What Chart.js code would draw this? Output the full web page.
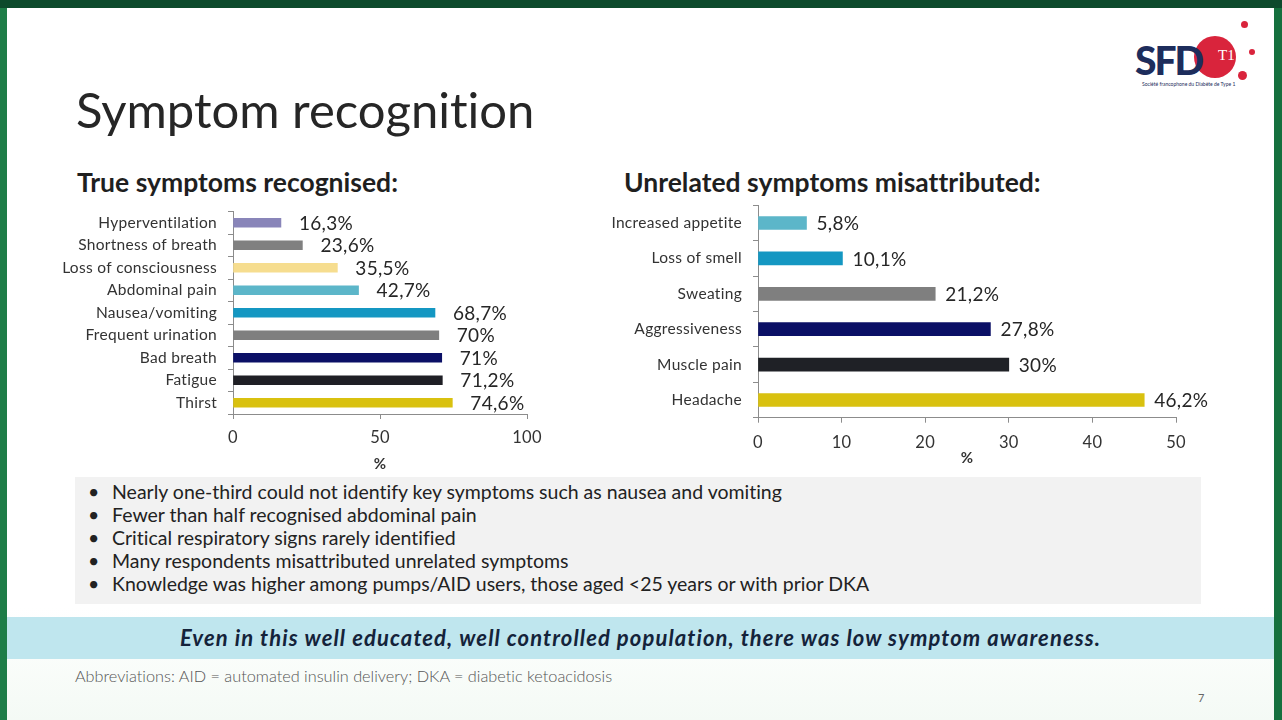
<!DOCTYPE html>
<html>
<head>
<meta charset="utf-8">
<script src="https://cdn.jsdelivr.net/npm/chart.js@4.4.1/dist/chart.umd.min.js"></script>
<style>
  html, body { margin: 0; padding: 0; }
  body { width: 1282px; height: 720px; position: relative; overflow: hidden; background: #0d4a2c; font-family: Lato, "Open Sans", sans-serif; color: #262626; font-variant-ligatures: none; }
  .slide { position: absolute; left: 7px; top: 8px; width: 1267px; height: 712px; background: linear-gradient(#ffffff 0, #ffffff 600px, #f4faf5 712px); }
  .edgeL { position: absolute; left: 0; top: 8px; width: 7px; height: 712px; background: #1e7d48; }
  .edgeR { position: absolute; right: 0; top: 8px; width: 8px; height: 712px; background: #15703e; }
  .abs { position: absolute; white-space: nowrap; }
  h1 { position: absolute; left: 76px; top: 80px; margin: 0; font-weight: 400; font-size: 49px; color: #262626; }
  .head { position: absolute; top: 166px; margin: 0; font-weight: 700; font-size: 26.5px; color: #1f1f1f; }
  .box { position: absolute; left: 75px; top: 477px; width: 1126px; height: 127px; background: #f2f2f2; }
  .box ul { margin: 0; padding: 0; list-style: none; position: absolute; left: 13px; top: 3px; }
  .box li { font-size: 19.5px; line-height: 23px; height: 23px; color: #222; }
  .box li::before { content: "\2022"; display: inline-block; width: 24px; }
  .banner { position: absolute; left: 7px; top: 617px; width: 1267px; height: 42px; background: #bfe6ee; text-align: center; line-height: 41px; font-weight: 700; font-style: italic; font-size: 22px; letter-spacing: 1.1px; color: #14233a; }
  .abbr { left: 75px; top: 666px; font-size: 16.3px; color: #555; font-weight: 300; }
  .page { left: 1198px; top: 691px; font-size: 11px; color: #666; }
  .logo { position: absolute; left: 1130px; top: 18px; width: 130px; height: 78px; }
  .dot { position: absolute; border-radius: 50%; background: #d9243c; }
</style>
</head>
<body>
<div class="slide"></div>
<div class="edgeL"></div>
<div class="edgeR"></div>

<div class="logo">
  <div class="dot" style="left:64px;top:18px;width:42px;height:42px;"></div>
  <div class="dot" style="left:111px;top:3px;width:7px;height:7px;"></div>
  <div class="dot" style="left:119px;top:31px;width:6px;height:6px;"></div>
  <div class="dot" style="left:108px;top:53px;width:9px;height:9px;"></div>
  <div class="abs" style="left:5px;top:19px;font-size:39px;font-weight:900;color:#1d2d5c;letter-spacing:-2px;">SFD</div>
  <div class="abs" style="left:88px;top:29px;font-size:15px;color:#fff;font-family:'Liberation Serif',serif;">T1</div>
  <div class="abs" style="left:12px;top:63px;font-size:5px;color:#1d2d5c;">Société francophone du Diabète de Type 1</div>
</div>

<h1>Symptom recognition</h1>
<div class="head" style="left:77px;">True symptoms recognised:</div>
<div class="head" style="left:624px;">Unrelated symptoms misattributed:</div>

<div class="abs" style="left:60px;top:200px;width:500px;height:280px;"><canvas id="trueChart"></canvas></div>
<div class="abs" style="left:600px;top:195px;width:620px;height:285px;"><canvas id="falseChart"></canvas></div>

<div class="box">
  <ul>
    <li>Nearly one-third could not identify key symptoms such as nausea and vomiting</li>
    <li>Fewer than half recognised abdominal pain</li>
    <li>Critical respiratory signs rarely identified</li>
    <li>Many respondents misattributed unrelated symptoms</li>
    <li>Knowledge was higher among pumps/AID users, those aged &lt;25 years or with prior DKA</li>
  </ul>
</div>
<div class="banner">Even in this well educated, well controlled population, there was low symptom awareness.</div>
<div class="abs abbr">Abbreviations: AID = automated insulin delivery; DKA = diabetic ketoacidosis</div>
<div class="abs page">7</div>

<script>
// True symptoms (left chart)
const trueLabels = ['Hyperventilation', 'Shortness of breath', 'Loss of consciousness', 'Abdominal pain',
    'Nausea/vomiting', 'Frequent urination', 'Bad breath', 'Fatigue', 'Thirst'];
const trueValues = [16.3, 23.6, 35.5, 42.7, 68.7, 70, 71, 71.2, 74.6];
const trueColors = ['#8985b9', '#808080', '#f6dd8f', '#5cb6c9', '#1497c2', '#7f7f7f', '#0b1066', '#1f1f25', '#d9c10f'];
const trueTicks = [0, 50, 100];

// Unrelated symptoms (right chart)
const falseLabels = ['Increased appetite', 'Loss of smell', 'Sweating', 'Aggressiveness', 'Muscle pain', 'Headache'];
const falseValues = [5.8, 10.1, 21.2, 27.8, 30, 46.2];
const falseColors = ['#5cb6c9', '#1497c2', '#7f7f7f', '#0b1066', '#1f2126', '#d9c10f'];
const falseTicks = [0, 10, 20, 30, 40, 50];

// pas de ligatures "ti" dans le canvas
const noLigatures = {
    id: 'noLigatures',
    beforeDraw: function (chart) { chart.ctx.letterSpacing = '0.3px'; }
};

// valeurs à droite des barres
const valueLabels = {
    id: 'valueLabels',
    afterDatasetsDraw: function (chart, args, opts) {
        const ctx = chart.ctx;
        const values = chart.data.datasets[0].data;
        ctx.save();
        ctx.font = opts.font;
        ctx.fillStyle = '#262626';
        ctx.textBaseline = 'middle';
        chart.getDatasetMeta(0).data.forEach(function (bar, i) {
            ctx.fillText(String(values[i]).replace('.', ',') + '%', bar.x + opts.offset, bar.y + 1);
        });
        ctx.restore();
    }
};

function makeChart(id, labels, values, colors, ticks, cfg) {
    const ctx = document.getElementById(id).getContext('2d');
    return new Chart(ctx, {
        type: 'bar',
        data: {
            labels: labels,
            datasets: [{
                data: values,
                backgroundColor: colors,
                barThickness: cfg.barThickness,
                borderWidth: 0
            }]
        },
        plugins: [noLigatures, valueLabels],
        options: {
            indexAxis: 'y',
            responsive: true,
            maintainAspectRatio: false,
            animation: false,
            layout: { padding: cfg.padding },
            plugins: {
                legend: { display: false },
                tooltip: { enabled: false },
                valueLabels: { offset: cfg.labelOffset, font: '19px Lato' }
            },
            scales: {
                y: {
                    afterFit: function (scale) {
                        scale.width = cfg.yWidth;
                        scale.paddingTop = 0;
                        scale.paddingBottom = 0;
                    },
                    border: { display: true, color: '#8c8c8c' },
                    grid: { drawOnChartArea: false, tickLength: 5, color: '#8c8c8c' },
                    ticks: { color: '#333', padding: 11, autoSkip: false, font: { family: 'Lato', size: 15.5 } }
                },
                x: {
                    min: ticks[0],
                    max: ticks[ticks.length - 1],
                    afterFit: function (scale) { scale.height = cfg.xHeight; },
                    afterBuildTicks: function (scale) {
                        scale.ticks = ticks.map(function (v) { return { value: v }; });
                    },
                    border: { display: true, color: '#8c8c8c' },
                    grid: { drawOnChartArea: false, tickLength: 5, color: '#8c8c8c' },
                    ticks: { color: '#333', padding: cfg.tickPad, font: { family: 'Lato', size: 16.5 } },
                    title: {
                        display: true,
                        text: '%',
                        color: '#333',
                        font: { family: 'Lato', size: 15, weight: 'bold' },
                        padding: { top: 0, bottom: cfg.titlePad }
                    }
                }
            }
        }
    });
}

makeChart('trueChart', trueLabels, trueValues, trueColors, trueTicks, {
    barThickness: 9, padding: { top: 11.5, right: 33, bottom: 0, left: 0 },
    yWidth: 173, xHeight: 66, tickPad: 9, titlePad: 7, labelOffset: 18
});
makeChart('falseChart', falseLabels, falseValues, falseColors, falseTicks, {
    barThickness: 13, padding: { top: 10.3, right: 44, bottom: 0, left: 0 },
    yWidth: 158, xHeight: 62.3, tickPad: 10, titlePad: 13, labelOffset: 10
});
</script>
</body>
</html>
